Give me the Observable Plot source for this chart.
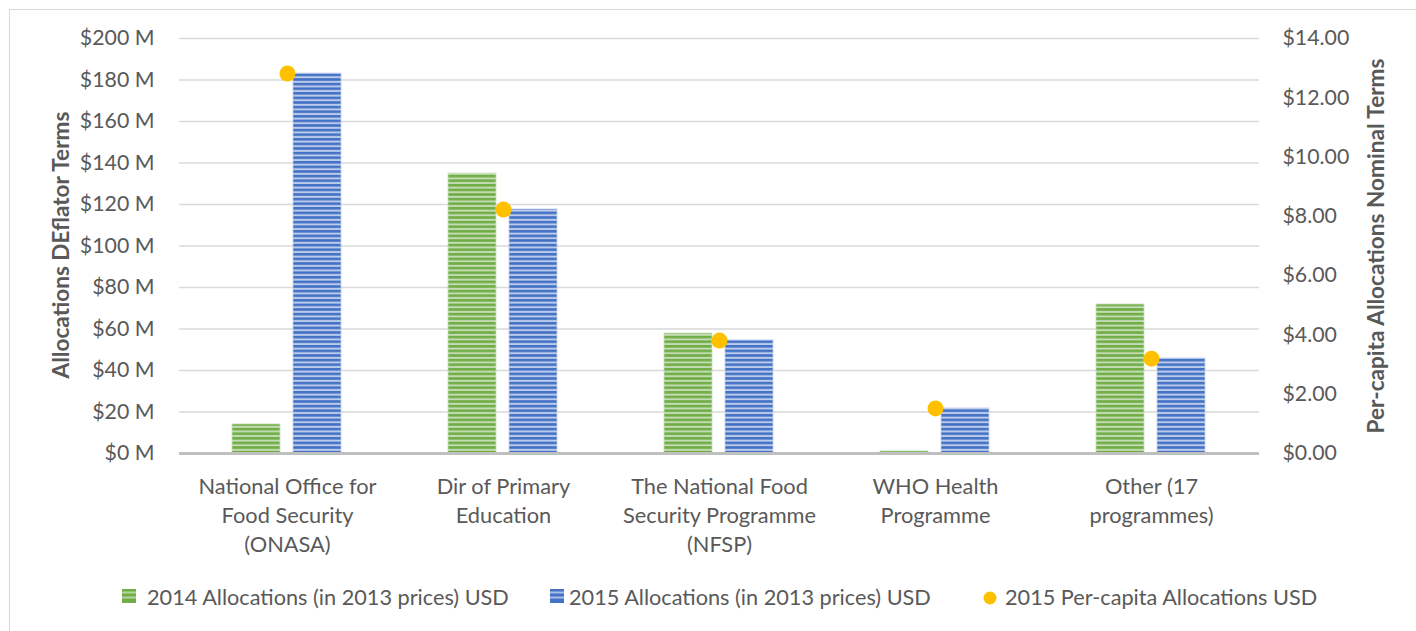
<!DOCTYPE html>
<html><head><meta charset="utf-8">
<script src="https://cdn.jsdelivr.net/npm/d3@7"></script>
<script src="https://cdn.jsdelivr.net/npm/@observablehq/plot@0.6"></script>
<style>
body{margin:0;background:#fff;font-family:Lato,sans-serif;overflow:hidden;}
#frame{position:absolute;left:9px;top:9px;width:1450px;height:700px;border:1.5px solid #d9d9d9;box-sizing:border-box;}
#chart{position:absolute;left:0;top:0;}
.leg{position:absolute;top:584px;font-size:21.7px;color:#595959;white-space:nowrap;line-height:26px;}
.sw{position:absolute;}
</style></head>
<body>
<div id="frame"></div>
<div id="chart"></div>
<div id="legend"></div>
<script>
const categories = ["National Office for\nFood Security\n(ONASA)", "Dir of Primary\nEducation", "The National Food\nSecurity Programme\n(NFSP)", "WHO Health\nProgramme", "Other (17\nprogrammes)"];
const series = ["2014 Allocations (in 2013 prices) USD", "2015 Allocations (in 2013 prices) USD"];
const perCapitaName = "2015 Per-capita Allocations USD";
const alloc2014 = [14.0, 134.9, 57.8, 1.0, 71.8];
const alloc2015 = [183.1, 117.6, 54.5, 21.7, 45.8];
const perCapita2015 = [12.82, 8.23, 3.81, 1.52, 3.20];
const leftTicks = [0, 20, 40, 60, 80, 100, 120, 140, 160, 180, 200];
const rightTicks = [0, 2, 4, 6, 8, 10, 12, 14];
const leftMax = 200, rightMax = 14;
const toLeft = v => v * leftMax / rightMax;
const FS = 21.3;

const rows = [];
categories.forEach((c, i) => {
  rows.push({cat: c, series: series[0], value: alloc2014[i]});
  rows.push({cat: c, series: series[1], value: alloc2015[i]});
});
const dots = categories.map((c, i) => ({cat: c, value: perCapita2015[i]}));

const plot = Plot.plot({
  width: 1416, height: 570,
  marginTop: 38, marginBottom: 117, marginLeft: 178, marginRight: 156,
  style: {fontFamily: "Lato, sans-serif", color: "#595959", background: "transparent"},
  fx: {domain: categories, padding: 0, label: null},
  x: {domain: series, paddingInner: 0.21, paddingOuter: 0.864, axis: null},
  y: {domain: [0, leftMax]},
  marks: [
    Plot.gridY(leftTicks, {stroke: "#d9d9d9", strokeOpacity: 1, strokeWidth: 1.5}),
    Plot.barY(rows.filter(d => d.series === series[0]), {fx: "cat", x: "series", y: "value", fill: "url(#pat14)", stroke: "#c9e0b8", strokeWidth: 0.8}),
    Plot.barY(rows.filter(d => d.series === series[1]), {fx: "cat", x: "series", y: "value", fill: "url(#pat15)", stroke: "#c3d0ec", strokeWidth: 0.8}),
    Plot.ruleY([0], {stroke: "#bfbfbf", strokeWidth: 3}),
    Plot.dot(dots, {fx: "cat", y: d => toLeft(d.value), r: 8, fill: "#FFC000", stroke: "none"}),
    Plot.axisY({anchor: "left", ticks: leftTicks, tickFormat: d => `$${d} M`, tickSize: 0, tickPadding: 25, fontSize: FS, label: null}),
    Plot.axisY({anchor: "right", ticks: rightTicks.map(toLeft), tickFormat: d => "$" + (d * rightMax / leftMax).toFixed(2), tickSize: 0, tickPadding: 23, fontSize: FS, label: null}),
    Plot.axisFx({anchor: "bottom", tickSize: 0, tickPadding: 20, fontSize: 21.8, lineHeight: 1.33, label: null})
  ]
});
document.getElementById("chart").appendChild(plot);

const svg = d3.select(plot);
const defs = svg.insert("defs", ":first-child");
function pattern(id, dark, light) {
  const p = defs.append("pattern").attr("id", id).attr("patternUnits", "userSpaceOnUse").attr("width", 8).attr("height", 4.6);
  p.append("rect").attr("width", 8).attr("height", 4.6).attr("fill", dark);
  p.append("rect").attr("y", 2.6).attr("width", 8).attr("height", 2).attr("fill", light);
}
pattern("pat14", "#70AD47", "#c4dcb2");
pattern("pat15", "#4472C4", "#bccbeb");

svg.append("text").attr("transform", "translate(60,245) rotate(-90)").attr("text-anchor", "middle").attr("dominant-baseline", "central")
  .attr("font-weight", "bold").attr("font-size", 22.6).attr("fill", "#595959").text("Allocations DEflator Terms");
svg.append("text").attr("transform", "translate(1375,246) rotate(-90)").attr("text-anchor", "middle").attr("dominant-baseline", "central")
  .attr("font-weight", "bold").attr("font-size", 22.6).attr("fill", "#595959").text("Per-capita Allocations Nominal Terms");

// legend
const leg = d3.select("#legend");
const items = [
  {name: series[0], type: "sq", sx: 122, tx: 147},
  {name: series[1], type: "sq", sx: 550, tx: 569},
  {name: perCapitaName, type: "dot", fill: "#FFC000", sx: 983, tx: 1005}
];
const colorsDark = ["#70AD47", "#4472C4"], colorsLight = ["#b5d39e", "#a9bde6"];
items.forEach((it, i) => {
  if (it.type === "sq") {
    const s = leg.append("svg").attr("class", "sw").style("left", it.sx + "px").style("top", "589px").attr("width", 14).attr("height", 14);
    s.append("rect").attr("width", 14).attr("height", 14).attr("fill", colorsDark[i]);
    [2.5, 7.5].forEach(y => s.append("rect").attr("y", y).attr("width", 14).attr("height", 2).attr("fill", colorsLight[i]));
  } else {
    const s = leg.append("svg").attr("class", "sw").style("left", it.sx + "px").style("top", "591px").attr("width", 14).attr("height", 14);
    s.append("circle").attr("cx", 7).attr("cy", 7).attr("r", 6.5).attr("fill", it.fill);
  }
  leg.append("div").attr("class", "leg").style("left", it.tx + "px").text(it.name);
});
</script>
</body></html>
